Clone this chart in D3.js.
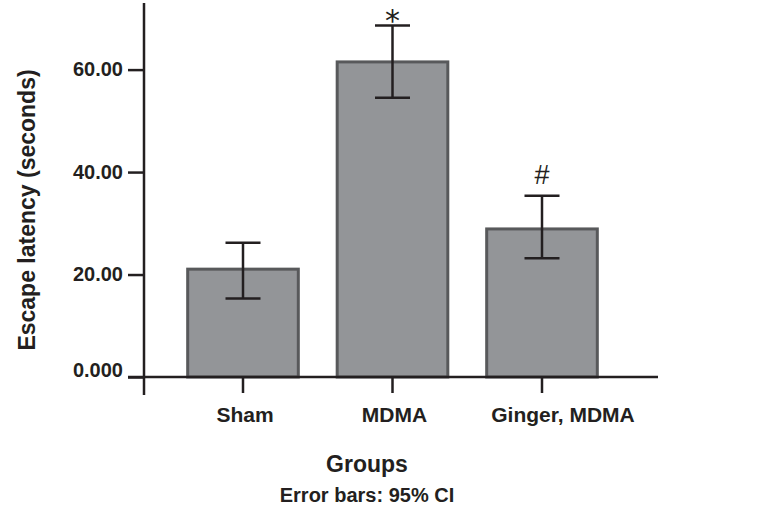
<!DOCTYPE html>
<html>
<head>
<meta charset="utf-8">
<script src="https://cdn.jsdelivr.net/npm/d3@7"></script>
<style>
  html, body { margin: 0; padding: 0; background: #ffffff; }
  svg { display: block; font-family: "Liberation Sans", Arial, Helvetica, sans-serif; }
</style>
</head>
<body>
<svg id="chart" width="776" height="514"></svg>
<script>
const categories = ["Sham", "MDMA", "Ginger, MDMA"];
const means = [21.05, 61.5, 28.9];
const ciLow = [15.3, 54.5, 23.2];
const ciHigh = [26.2, 68.6, 35.4];
const markers = ["", "*", "#"];
const yTicks = [0, 20, 40, 60];
const yTickLabels = ["0.000", "20.00", "40.00", "60.00"];

const svg = d3.select("#chart");
const dark = "#231f20";

const x = d3.scaleBand().domain(categories).range([168.25, 616.75]).padding(0);
const y = d3.scaleLinear().domain([0, 73]).range([377, 3]);
const barW = x.bandwidth() * 0.74;
const capW = 35;

// bars
svg.append("g").selectAll("rect").data(categories).join("rect")
  .attr("x", d => x(d) + (x.bandwidth() - barW) / 2)
  .attr("y", (d, i) => y(means[i]))
  .attr("width", barW)
  .attr("height", (d, i) => y(0) - y(means[i]))
  .attr("fill", "#939598")
  .attr("stroke", "#58595b")
  .attr("stroke-width", 3);

// error bars
const eg = svg.append("g").attr("stroke", dark).attr("stroke-width", 2.5);
categories.forEach((c, i) => {
  const cx = x(c) + x.bandwidth() / 2;
  eg.append("line").attr("x1", cx).attr("x2", cx).attr("y1", y(ciLow[i])).attr("y2", y(ciHigh[i]));
  eg.append("line").attr("x1", cx - capW / 2).attr("x2", cx + capW / 2).attr("y1", y(ciLow[i])).attr("y2", y(ciLow[i]));
  eg.append("line").attr("x1", cx - capW / 2).attr("x2", cx + capW / 2).attr("y1", y(ciHigh[i])).attr("y2", y(ciHigh[i]));
});

// significance markers
svg.append("g").selectAll("text").data(categories).join("text")
  .attr("x", d => x(d) + x.bandwidth() / 2)
  .attr("y", (d, i) => y(ciHigh[i]) - (markers[i] === "*" ? -5 : 12))
  .attr("text-anchor", "middle")
  .attr("font-family", (d, i) => markers[i] === "*" ? "DejaVu Sans, sans-serif" : "Liberation Sans, Arial, sans-serif")
  .attr("font-size", (d, i) => markers[i] === "*" ? 30 : 27)
  .attr("fill", dark)
  .text((d, i) => markers[i]);

// y axis
const yAxis = d3.axisLeft(y).tickValues(yTicks).tickSize(16).tickPadding(5)
  .tickFormat((d, i) => yTickLabels[i]);
const yg = svg.append("g").attr("transform", "translate(144,0)").call(yAxis);
yg.select(".domain").remove();
yg.selectAll(".tick line").attr("stroke", dark).attr("stroke-width", 2.5);
yg.selectAll(".tick text")
  .attr("font-size", 20).attr("font-weight", "bold").attr("fill", dark)
  .attr("font-family", "Liberation Sans, Arial, sans-serif")
  .attr("dy", d => d === 0 ? "-0.05em" : "0.3em");
svg.append("line").attr("x1", 144).attr("x2", 144).attr("y1", y(73)).attr("y2", y(0) + 18)
  .attr("stroke", dark).attr("stroke-width", 2.5);

// x axis
svg.append("line").attr("x1", 128).attr("x2", 658).attr("y1", y(0)).attr("y2", y(0))
  .attr("stroke", dark).attr("stroke-width", 2.5);
const xAxis = d3.axisBottom(x).tickSize(16).tickPadding(14);
const xg = svg.append("g").attr("transform", `translate(0,${y(0)})`).call(xAxis);
xg.select(".domain").remove();
xg.selectAll(".tick line").attr("stroke", dark).attr("stroke-width", 2.5);
xg.selectAll(".tick text")
  .attr("font-size", 21).attr("font-weight", "bold").attr("fill", dark)
  .attr("font-family", "Liberation Sans, Arial, sans-serif")
  .attr("dx", (d, i) => i === categories.length - 1 ? 21 : 2);

// axis titles
svg.append("text")
  .attr("transform", "translate(35,210) rotate(-90)")
  .attr("text-anchor", "middle")
  .attr("font-size", 23).attr("font-weight", "bold").attr("fill", dark)
  .text("Escape latency (seconds)");
svg.append("text")
  .attr("x", 367).attr("y", 472)
  .attr("text-anchor", "middle")
  .attr("font-size", 23).attr("font-weight", "bold").attr("fill", dark)
  .text("Groups");
svg.append("text")
  .attr("x", 367).attr("y", 502)
  .attr("text-anchor", "middle")
  .attr("font-size", 20).attr("font-weight", "bold").attr("fill", dark)
  .text("Error bars: 95% CI");
</script>
</body>
</html>
